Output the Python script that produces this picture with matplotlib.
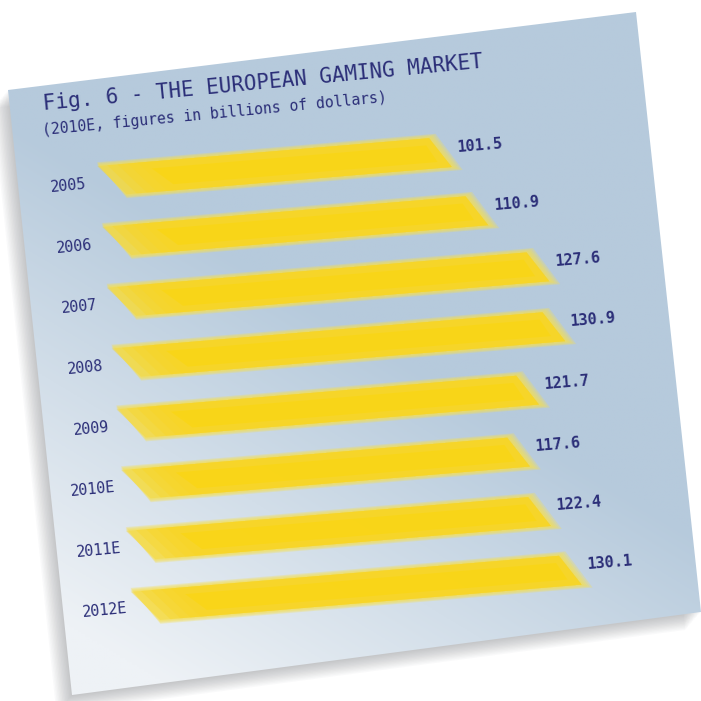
import numpy as np
import matplotlib
matplotlib.use("Agg")
import matplotlib.pyplot as plt
from matplotlib.patches import Polygon
from matplotlib.transforms import Affine2D

# data
years = ["2005", "2006", "2007", "2008", "2009", "2010E", "2011E", "2012E"]
values = [101.5, 110.9, 127.6, 130.9, 121.7, 117.6, 122.4, 130.1]
title = "Fig. 6 - THE EUROPEAN GAMING MARKET"
subtitle = "(2010E, figures in billions of dollars)"

W = 701
ink = "#2b2e78"
mono = "DejaVu Sans Mono"

fig = plt.figure(figsize=(7.01, 7.01), dpi=100)
fig.patch.set_facecolor("white")

# paper note in pixel coords (y down)
bg = fig.add_axes([0, 0, 1, 1])
bg.set_xlim(0, W)
bg.set_ylim(W, 0)
bg.axis("off")
paper = np.array([(8, 90), (636, 12), (701, 612), (72, 695)], dtype=float)

# soft shadow to the lower left
for k in range(1, 13):
    sh = paper + np.array([-1.3 * k, 1.5 * k])
    bg.add_patch(Polygon(sh, closed=True, fc="#5a5e66", ec="none", alpha=0.03))

# gradient fill, lighter toward bottom left
gx, gy = np.meshgrid(np.linspace(0, 1, 300), np.linspace(1, 0, 300))
light = np.clip(1.25 - 0.9 * gx - 1.5 * gy, 0, 1)
dark = np.array([182, 202, 220]) / 255
pale = np.array([238, 242, 246]) / 255
img = dark + light[..., None] * (pale - dark)
paper_patch = Polygon(paper, closed=True, fc="none", ec="none")
bg.add_patch(paper_patch)
im = bg.imshow(img, extent=[0, W, W, 0], aspect="auto", zorder=1)
im.set_clip_path(paper_patch)

# bar chart, drawn flat then tilted around the 2012E bar origin
ax = fig.add_axes([132 / W, 1 - 633.5 / W, 507 / W, 488 / W])
ax.set_xlim(0, 150)
ax.set_ylim(len(years) - 0.5, -0.5)
ax.axis("off")

px, py = 132 / W, 1 - 603 / W
to_frac = fig.transFigure.inverted()
tr_text = ax.transData + to_frac + Affine2D().rotate_deg_around(px, py, 5.5) + fig.transFigure

a, b = np.deg2rad(4.8), np.deg2rad(4.5)
shear = Affine2D(np.array([[np.cos(a), -np.sin(b), 0],
                           [np.sin(a), np.cos(b), 0],
                           [0, 0, 1]]))
tr_bar = (ax.transData + to_frac + Affine2D().translate(-px, -py) + shear
          + Affine2D().translate(px, py - 4 / W) + fig.transFigure)

h = 0.25
for i, v in enumerate(values):
    # fuzzy rim
    for k in range(4):
        d = 0.016 * (4 - k)
        pts = [(0, i - h - d), (v - 3 + 0.5 * (4 - k), i - h - d),
               (v + 3 + 0.8 * (4 - k), i + h + d), (8, i + h + d)]
        ax.add_patch(Polygon(pts, closed=True, fc="#f7e04e", ec="none",
                             alpha=0.3, transform=tr_bar, clip_on=False))
    # body, fading in from the left end
    for k in range(5):
        x0 = 3 * k
        pts = [(x0, i - h), (v - 3, i - h), (v + 3, i + h), (8 + 3 * k, i + h)]
        ax.add_patch(Polygon(pts, closed=True, fc="#f9d521", ec="none",
                             alpha=0.35, transform=tr_bar, clip_on=False))
    core = [(16, i - h * 0.55), (v - 4, i - h * 0.55), (v - 1, i + h * 0.6), (22, i + h * 0.6)]
    ax.add_patch(Polygon(core, closed=True, fc="#fbd60e", ec="none", alpha=0.6,
                         transform=tr_bar, clip_on=False))

    ax.text(v + 5, i - 0.1, f"{v:.1f}", ha="left", va="center", fontsize=11,
            fontweight="bold", family=mono, color=ink,
            transform=tr_bar, transform_rotates_text=True)
    ax.text(-1.5, i + 0.12, years[i], ha="right", va="center", fontsize=10.8,
            family=mono, color=ink, transform=tr_text, transform_rotates_text=True)

ax.text(-12.5, -1.19, title, ha="left", va="baseline", fontsize=15,
        family=mono, color=ink, transform=tr_text, transform_rotates_text=True)
ax.text(-13.3, -0.78, subtitle, ha="left", va="baseline", fontsize=10.6,
        family=mono, color=ink, transform=tr_text, transform_rotates_text=True)

fig.savefig("out.png", dpi=100, facecolor="white")
